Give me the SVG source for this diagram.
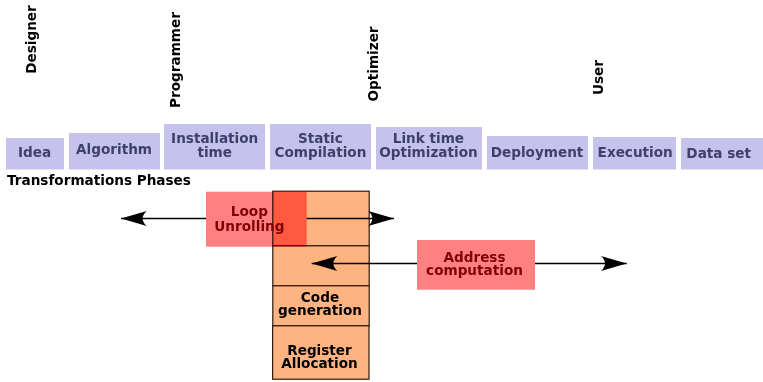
<svg xmlns="http://www.w3.org/2000/svg" width="763" height="382" viewBox="0 0 763 382">
<defs>
<style>
text{font-family:"DejaVu Sans","Liberation Sans",sans-serif;font-weight:bold;font-size:13.6px}
.ph rect{fill:#c5c3eb}
.ph text{fill:#3f3f6e;text-anchor:middle}
.lbl{fill:#000}
.vt{fill:#000;text-anchor:middle}
.or{fill:#ffb380;stroke:#2b1a10;stroke-width:1.2}
.pk{fill:#ff8080}
.pkt{fill:#800000;text-anchor:middle}
.blk{fill:#000;text-anchor:middle}
.con{stroke:#000;stroke-width:1.4;fill:none;marker-end:url(#ah)}
</style>
<marker id="ah" markerUnits="userSpaceOnUse" markerWidth="30" markerHeight="20" viewBox="-26 -9 28 18" refX="0" refY="0" orient="auto">
<path d="M0,0 L-24,-7 C-19,-2.5 -19,2.5 -24,7 Z" fill="#000"/>
</marker>
</defs>

<g id="role-designer"><text class="vt" transform="translate(35.5,39.5) rotate(-90)">Designer</text></g>
<g id="role-programmer"><text class="vt" transform="translate(180,60) rotate(-90)">Programmer</text></g>
<g id="role-optimizer"><text class="vt" transform="translate(378,64) rotate(-90)">Optimizer</text></g>
<g id="role-user"><text class="vt" transform="translate(603,77.5) rotate(-90)">User</text></g>

<g id="phase-idea" class="ph"><rect x="6" y="138" width="58" height="31.5"/><text x="34.5" y="156.7">Idea</text></g>
<g id="phase-algorithm" class="ph"><rect x="69" y="133" width="91" height="36.5"/><text x="114" y="154.2">Algorithm</text></g>
<g id="phase-installation" class="ph"><rect x="164" y="124" width="101" height="45.5"/><text x="214.7" y="143">Installation</text><text x="214.7" y="156.7">time</text></g>
<g id="phase-static" class="ph"><rect x="270" y="124" width="101" height="45.5"/><text x="320.4" y="143">Static</text><text x="320.4" y="156.7">Compilation</text></g>
<g id="phase-link" class="ph"><rect x="376" y="127" width="106" height="42.5"/><text x="428.4" y="143">Link time</text><text x="428.4" y="156.7">Optimization</text></g>
<g id="phase-deployment" class="ph"><rect x="487" y="136" width="101" height="33.5"/><text x="537" y="157">Deployment</text></g>
<g id="phase-execution" class="ph"><rect x="593" y="137" width="83" height="32.5"/><text x="635.2" y="157">Execution</text></g>
<g id="phase-dataset" class="ph"><rect x="681" y="138" width="82" height="31.5"/><text x="718.7" y="158.2">Data set</text></g>

<g id="title"><text class="lbl" x="7" y="184.5">Transformations Phases</text></g>

<g id="stack">
<rect class="or" x="272.8" y="191.2" width="96.4" height="54.6"/>
<rect class="or" x="272.8" y="245.8" width="96.4" height="40"/>
</g>
<g id="code-generation">
<rect class="or" x="272.8" y="285.8" width="96.4" height="40"/>
<text class="blk" x="320" y="301.7">Code</text><text class="blk" x="320" y="315.1">generation</text>
</g>
<g id="register-allocation">
<rect class="or" x="272.6" y="325.8" width="96.4" height="53.4"/>
<text class="blk" x="319.5" y="354.6">Register</text><text class="blk" x="319.5" y="368.2">Allocation</text>
</g>

<g id="loop-unrolling">
<rect class="pk" x="206" y="191.7" width="100.7" height="55" style="mix-blend-mode:multiply"/>
<text class="pkt" x="249.4" y="216">Loop</text><text class="pkt" x="249.4" y="230.6">Unrolling</text>
</g>

<g id="address-computation">
<rect class="pk" x="417" y="240" width="118" height="49.7"/>
<text class="pkt" x="474.5" y="261.7">Address</text><text class="pkt" x="474.5" y="275.1">computation</text>
</g>

<g id="connectors">
<line class="con" x1="206" y1="218.5" x2="121" y2="218.5"/>
<line class="con" x1="306.7" y1="218.5" x2="394" y2="218.5"/>
<line class="con" x1="417" y1="263.5" x2="311.7" y2="263.5"/>
<line class="con" x1="535" y1="263.5" x2="626.7" y2="263.5"/>
</g>
</svg>
